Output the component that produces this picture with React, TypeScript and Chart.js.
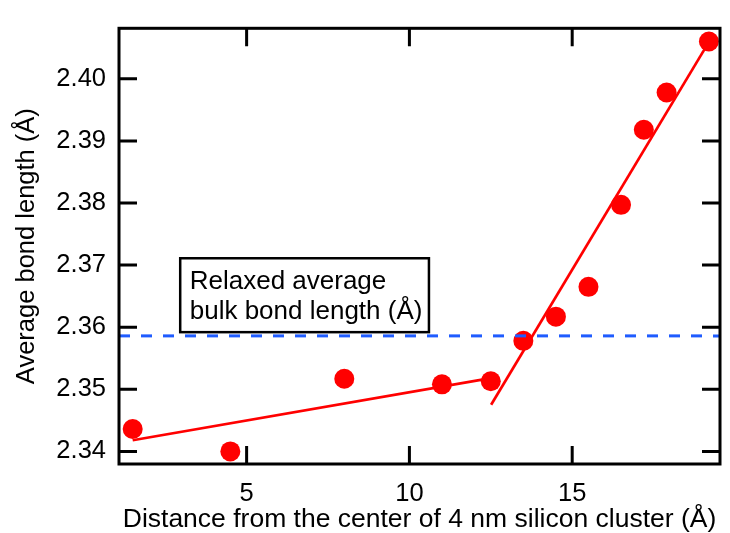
import React, { useEffect, useRef } from 'react';
import { Chart, registerables } from 'chart.js';

Chart.register(...registerables);

const X_MIN = 1.08;
const X_MAX = 19.54;
const Y_MIN = 2.33797;
const Y_MAX = 2.40813;
const X_TICKS = [5, 10, 15];
const Y_TICKS = [2.34, 2.35, 2.36, 2.37, 2.38, 2.39, 2.4];

const distances = [1.5, 4.5, 8, 11, 12.5, 13.5, 14.5, 15.5, 16.5, 17.2, 17.9, 19.2];
const bondLengths = [2.3436, 2.34, 2.3517, 2.3508, 2.3513, 2.3578, 2.3617, 2.3665, 2.3797, 2.3918, 2.3978, 2.406];

const coreFitX = [1.5, 12.5];
const coreFitY = [2.3418, 2.3518];
const shellFitX = [12.51, 19.15];
const shellFitY = [2.3475, 2.4055];

const bulkX = [X_MIN, X_MAX];
const bulkY = [2.3586, 2.3586];

const annotationLines = ['Relaxed average', 'bulk bond length (Å)'];
const annotationX = [2.96, 10.6];
const annotationY = [2.3711, 2.3592];

const FONT = "'Liberation Sans', Arial, Helvetica, sans-serif";

const zip = (xs: number[], ys: number[]) => xs.map((x, i) => ({ x, y: ys[i] }));

const framePlugin = {
  id: 'frameAndNote',
  afterDatasetsDraw(chart: any) {
    const { ctx, chartArea: a, scales } = chart;
    const xs = scales.x;
    const ys = scales.y;
    ctx.save();
    // annotation box
    const bx0 = xs.getPixelForValue(annotationX[0]);
    const bx1 = xs.getPixelForValue(annotationX[1]);
    const by0 = ys.getPixelForValue(annotationY[0]);
    const by1 = ys.getPixelForValue(annotationY[1]);
    ctx.fillStyle = '#fff';
    ctx.fillRect(bx0, by0, bx1 - bx0, by1 - by0);
    ctx.strokeStyle = '#000';
    ctx.lineWidth = 2.5;
    ctx.strokeRect(bx0, by0, bx1 - bx0, by1 - by0);
    ctx.fillStyle = '#000';
    ctx.font = `26px ${FONT}`;
    ctx.textAlign = 'left';
    ctx.textBaseline = 'alphabetic';
    annotationLines.forEach((t, i) => {
      ctx.fillText(t, bx0 + 9.5, by0 + 31 + i * 29.5);
    });

    // frame
    ctx.lineWidth = 3;
    ctx.strokeRect(a.left, a.top, a.right - a.left, a.bottom - a.top);
    const L = 18;
    ctx.beginPath();
    X_TICKS.forEach((v) => {
      const px = xs.getPixelForValue(v);
      ctx.moveTo(px, a.bottom);
      ctx.lineTo(px, a.bottom - L);
      ctx.moveTo(px, a.top);
      ctx.lineTo(px, a.top + L);
    });
    Y_TICKS.forEach((v) => {
      const py = ys.getPixelForValue(v);
      ctx.moveTo(a.left, py);
      ctx.lineTo(a.left + L, py);
      ctx.moveTo(a.right, py);
      ctx.lineTo(a.right - L, py);
    });
    ctx.stroke();
    ctx.restore();
  },
};

export default function App() {
  const ref = useRef<HTMLCanvasElement | null>(null);

  useEffect(() => {
    if (!ref.current) return;
    const chart = new Chart(ref.current, {
      type: 'scatter',
      data: {
        datasets: [
          {
            type: 'line',
            data: zip(bulkX, bulkY),
            borderColor: '#1f5cff',
            borderWidth: 3,
            borderDash: [11, 11],
            pointRadius: 0,
            fill: false,
          } as any,
          {
            type: 'line',
            data: zip(coreFitX, coreFitY),
            borderColor: '#ff0000',
            borderWidth: 2.7,
            pointRadius: 0,
            fill: false,
          } as any,
          {
            type: 'line',
            data: zip(shellFitX, shellFitY),
            borderColor: '#ff0000',
            borderWidth: 2.7,
            pointRadius: 0,
            fill: false,
          } as any,
          {
            data: zip(distances, bondLengths),
            backgroundColor: '#ff0000',
            borderColor: '#ff0000',
            borderWidth: 0,
            pointRadius: 10,
          },
        ],
      },
      options: {
        animation: false,
        responsive: false,
        events: [],
        layout: { padding: { top: 15, right: 2, left: 0, bottom: 0 } },
        plugins: { legend: { display: false }, tooltip: { enabled: false } },
        scales: {
          x: {
            type: 'linear',
            min: X_MIN,
            max: X_MAX,
            grid: { display: false, drawTicks: false },
            border: { display: false },
            afterBuildTicks: (s: any) => {
              s.ticks = X_TICKS.map((v) => ({ value: v }));
            },
            afterFit: (s: any) => {
              s.height = 69;
            },
            ticks: {
              color: '#000',
              padding: 15,
              font: { family: FONT, size: 25.5 },
              maxRotation: 0,
              callback: (v: any) => String(v),
            },
            title: {
              display: true,
              text: 'Distance from the center of 4 nm silicon cluster (Å)',
              color: '#000',
              font: { family: FONT, size: 26.5, lineHeight: 1 },
              padding: { top: 0, bottom: 0 },
            },
          },
          y: {
            type: 'linear',
            min: Y_MIN,
            max: Y_MAX,
            grid: { display: false, drawTicks: false },
            border: { display: false },
            afterBuildTicks: (s: any) => {
              s.ticks = Y_TICKS.map((v) => ({ value: v }));
            },
            afterFit: (s: any) => {
              s.width = 119;
            },
            ticks: {
              color: '#000',
              padding: 13,
              font: { family: FONT, size: 25.5 },
              callback: (v: any) => Number(v).toFixed(2),
            },
            title: {
              display: true,
              text: 'Average bond length (Å)',
              color: '#000',
              font: { family: FONT, size: 25.5, lineHeight: 1 },
              padding: { top: 14, bottom: 0 },
            },
          },
        },
      },
      plugins: [framePlugin],
    } as any);
    return () => chart.destroy();
  }, []);

  return (
    <div style={{ position: 'fixed', left: 0, top: 0, width: 730, height: 533, background: '#fff' }}>
      <canvas ref={ref} width={730} height={533} style={{ display: 'block' }} />
    </div>
  );
}
